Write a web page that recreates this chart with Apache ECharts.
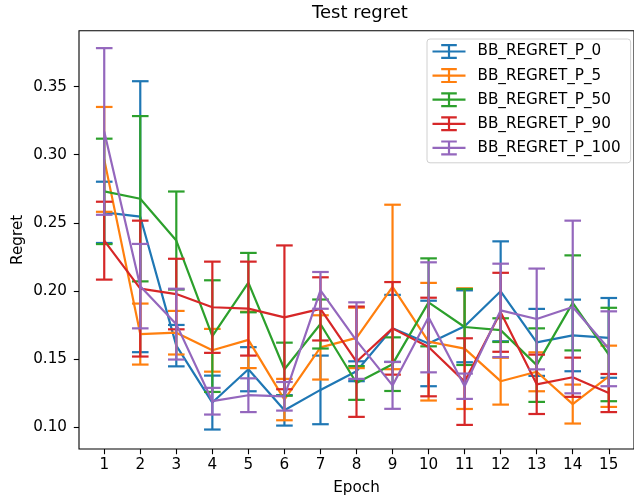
<!DOCTYPE html>
<html>
<head>
<meta charset="utf-8">
<script src="https://cdn.jsdelivr.net/npm/echarts@6/dist/echarts.min.js"></script>
<style>
  html, body { margin: 0; padding: 0; background: #fff; }
  #chart { width: 634px; height: 501px; }
</style>
</head>
<body>
<div id="chart"></div>
<script>
// Epochs on the x axis
const epochs = [1, 2, 3, 4, 5, 6, 7, 8, 9, 10, 11, 12, 13, 14, 15];

// Series names
const seriesNames = ['BB_REGRET_P_0', 'BB_REGRET_P_5', 'BB_REGRET_P_50', 'BB_REGRET_P_90', 'BB_REGRET_P_100'];

// Mean regret per epoch
const meanP0   = [0.2577, 0.2545, 0.1598, 0.1180, 0.1425, 0.1123, 0.1273, 0.1410, 0.1725, 0.1614, 0.1740, 0.1997, 0.1622, 0.1673, 0.1655];
const meanP5   = [0.2966, 0.1683, 0.1693, 0.1564, 0.1640, 0.1202, 0.1585, 0.1655, 0.2029, 0.1627, 0.1576, 0.1337, 0.1406, 0.1169, 0.1373];
const meanP50  = [0.2731, 0.2677, 0.2370, 0.1668, 0.2061, 0.1425, 0.1757, 0.1324, 0.1462, 0.1916, 0.1735, 0.1712, 0.1455, 0.1912, 0.1533];
const meanP90  = [0.2369, 0.2017, 0.1977, 0.1880, 0.1870, 0.1806, 0.1868, 0.1480, 0.1725, 0.1588, 0.1334, 0.1843, 0.1314, 0.1366, 0.1250];
const meanP100 = [0.3171, 0.2035, 0.1756, 0.1190, 0.1234, 0.1226, 0.2004, 0.1635, 0.1306, 0.1806, 0.1300, 0.1857, 0.1794, 0.1882, 0.1575];

// Error (half-height of each error bar) per epoch
const errP0   = [0.0225, 0.0995, 0.0152, 0.0198, 0.0162, 0.0112, 0.0252, 0.0073, 0.0246, 0.0314, 0.0264, 0.0367, 0.0246, 0.0263, 0.0293];
const errP5   = [0.0385, 0.0224, 0.0160, 0.0157, 0.0207, 0.0152, 0.0236, 0.0222, 0.0604, 0.0432, 0.0443, 0.0172, 0.0143, 0.0143, 0.0225];
const errP50  = [0.0387, 0.0607, 0.0360, 0.0410, 0.0218, 0.0195, 0.0180, 0.0124, 0.0197, 0.0323, 0.0279, 0.0087, 0.0270, 0.0349, 0.0343];
const errP90  = [0.0286, 0.0499, 0.0259, 0.0335, 0.0345, 0.0528, 0.0232, 0.0405, 0.0340, 0.0362, 0.0318, 0.0290, 0.0218, 0.0144, 0.0140];
const errP100 = [0.0612, 0.0310, 0.0260, 0.0098, 0.0124, 0.0105, 0.0135, 0.0281, 0.0172, 0.0404, 0.0093, 0.0343, 0.0370, 0.0634, 0.0275];

// Tick values
const yTicks = [0.10, 0.15, 0.20, 0.25, 0.30, 0.35];

const means = [meanP0, meanP5, meanP50, meanP90, meanP100];
const errs = [errP0, errP5, errP50, errP90, errP100];
const colors = ['#1f77b4', '#ff7f0e', '#2ca02c', '#d62728', '#9467bd'];

const FONT = 'DejaVu Sans';
const FS = 15.2;      // tick, axis-name and legend text size
const LW = 2.2;       // data line and error bar width
const CAP = 8.3;      // half-width of error bar caps

// Legend handle: horizontal line crossed by a capped vertical bar
const errIcon = 'path://M0 6.9H33V9.1H0Z M15.4 0.5H17.6V15.5H15.4Z M8.7 0.5H24.3V2.7H8.7Z M8.7 13.3H24.3V15.5H8.7Z';

function errorBarItem(color) {
  return function (params, api) {
    const x = api.value(0), m = api.value(1), e = api.value(2);
    const top = api.coord([x, m + e]);
    const bot = api.coord([x, m - e]);
    const st = { stroke: color, lineWidth: LW, fill: null };
    return {
      type: 'group',
      children: [
        { type: 'line', shape: { x1: top[0], y1: top[1], x2: bot[0], y2: bot[1] }, style: st },
        { type: 'line', shape: { x1: top[0] - CAP, y1: top[1], x2: top[0] + CAP, y2: top[1] }, style: st },
        { type: 'line', shape: { x1: bot[0] - CAP, y1: bot[1], x2: bot[0] + CAP, y2: bot[1] }, style: st }
      ]
    };
  };
}

const series = [];
seriesNames.forEach(function (name, i) {
  series.push({
    name: name,
    type: 'line',
    data: epochs.map(function (ep, k) { return [ep, means[i][k]]; }),
    symbol: 'none',
    color: colors[i],
    lineStyle: { color: colors[i], width: LW },
    z: 10 + i,
    animation: false
  });
  series.push({
    name: name,
    type: 'custom',
    data: epochs.map(function (ep, k) { return [ep, means[i][k], errs[i][k]]; }),
    renderItem: errorBarItem(colors[i]),
    encode: { x: 0, y: 1 },
    color: colors[i],
    z: 10 + i,
    animation: false
  });
});

const chart = echarts.init(document.getElementById('chart'), null, { renderer: 'canvas' });
chart.setOption({
  backgroundColor: '#fff',
  animation: false,
  textStyle: { fontFamily: FONT },
  title: {
    text: 'Test regret',
    left: 360,
    top: 4,
    textAlign: 'center',
    padding: 0,
    textStyle: { fontFamily: FONT, fontSize: 18, fontWeight: 'normal', color: '#000' }
  },
  legend: {
    orient: 'vertical',
    left: 427,
    top: 39,
    padding: [5, 10, 7.4, 5.5],
    itemWidth: 33,
    itemHeight: 17,
    itemGap: 9.1,
    borderColor: '#d0d0d0',
    borderWidth: 1,
    borderRadius: 3,
    backgroundColor: 'rgba(255,255,255,0.8)',
    data: seriesNames.map(function (n, i) {
      return { name: n, icon: errIcon, itemStyle: { color: colors[i], borderWidth: 0 } };
    }),
    textStyle: { fontFamily: FONT, fontSize: FS, color: '#000', padding: [0, 0, 0, 7] }
  },
  grid: {
    left: 79,
    top: 30.7,
    width: 562.6,
    height: 418.6,
    show: true,
    borderColor: '#000',
    borderWidth: 1.1,
    backgroundColor: 'transparent'
  },
  xAxis: {
    type: 'value',
    min: 0.3,
    max: 15.7,
    name: 'Epoch',
    nameLocation: 'middle',
    nameGap: 32,
    nameMoveOverlap: false,
    nameTextStyle: { fontFamily: FONT, fontSize: FS, color: '#000' },
    axisLine: { show: false },
    splitLine: { show: false },
    axisTick: { show: true, inside: false, length: 5.2, lineStyle: { color: '#000', width: 1.1 }, customValues: epochs },
    axisLabel: { show: true, margin: 8.5, fontFamily: FONT, fontSize: FS, color: '#000', customValues: epochs }
  },
  yAxis: {
    type: 'value',
    min: 0.0839,
    max: 0.3911,
    name: 'Regret',
    nameLocation: 'middle',
    nameRotate: 90,
    nameGap: 53,
    nameMoveOverlap: false,
    nameTextStyle: { fontFamily: FONT, fontSize: FS, color: '#000' },
    axisLine: { show: false },
    splitLine: { show: false },
    axisTick: { show: true, inside: false, length: 5.2, lineStyle: { color: '#000', width: 1.1 }, customValues: yTicks },
    axisLabel: {
      show: true, margin: 12, fontFamily: FONT, fontSize: FS, color: '#000',
      customValues: yTicks,
      formatter: function (v) { return v.toFixed(2); }
    }
  },
  series: series
});
</script>
</body>
</html>
